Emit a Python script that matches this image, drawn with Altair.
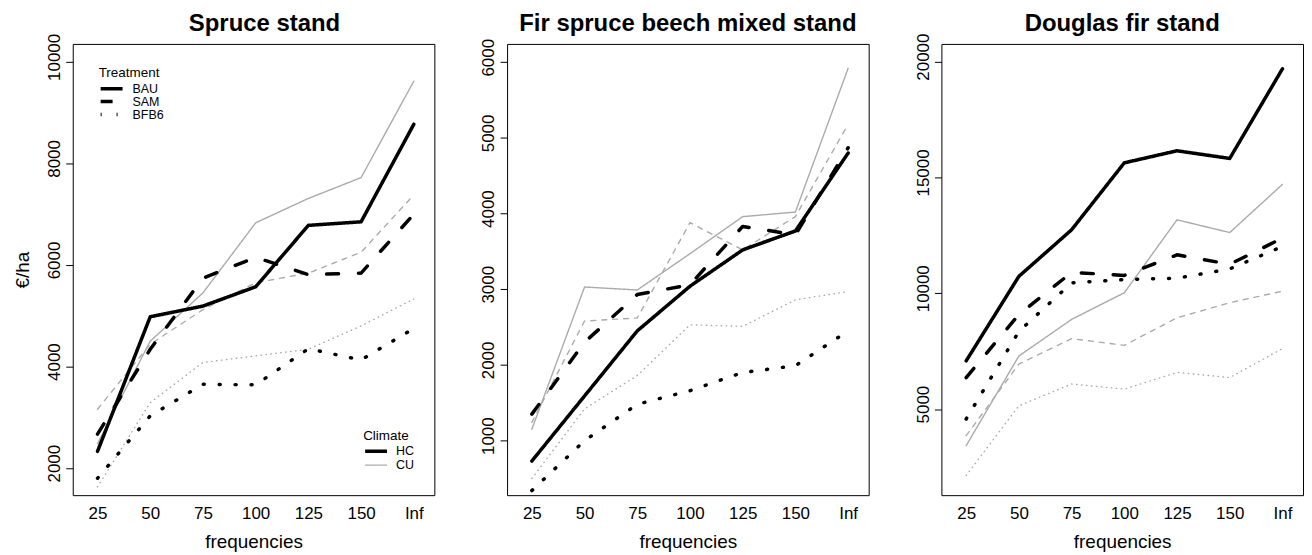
import altair as alt
import pandas as pd

FONT = "Liberation Sans"
GRAY = "#ababab"

freq_labels = ["25", "50", "75", "100", "125", "150", "Inf"]
freq_index = [1, 2, 3, 4, 5, 6, 7]
treatments = ["BAU", "SAM", "BFB6"]
climates = ["HC", "CU"]
panel_titles = ["Spruce stand", "Fir spruce beech mixed stand", "Douglas fir stand"]

# Spruce stand
spruce_BAU_HC = [2330, 4980, 5190, 5570, 6780, 6850, 8770]
spruce_BAU_CU = [2480, 4500, 5450, 6830, 7310, 7720, 9620]
spruce_SAM_HC = [2670, 4340, 5740, 6150, 5810, 5840, 7000]
spruce_SAM_CU = [3160, 4440, 5120, 5650, 5840, 6250, 7380]
spruce_BFB6_HC = [1800, 3030, 3650, 3640, 4350, 4130, 4750]
spruce_BFB6_CU = [1630, 3290, 4080, 4210, 4340, 4800, 5330]

# Fir spruce beech mixed stand
fir_BAU_HC = [730, 1590, 2450, 3040, 3520, 3770, 4800]
fir_BAU_CU = [1150, 3030, 2990, 3470, 3960, 4020, 5920]
fir_SAM_HC = [1350, 2300, 2930, 3060, 3830, 3720, 4870]
fir_SAM_CU = [1240, 2580, 2620, 3880, 3520, 3960, 5180]
fir_BFB6_HC = [340, 1000, 1480, 1660, 1900, 1990, 2450]
fir_BFB6_CU = [500, 1420, 1860, 2530, 2510, 2860, 2970]

# Douglas fir stand
dg_BAU_HC = [7080, 10730, 12740, 15630, 16150, 15820, 19690]
dg_BAU_CU = [3420, 7290, 8870, 10020, 13170, 12620, 14700]
dg_SAM_HC = [6360, 9080, 10900, 10770, 11660, 11250, 12380]
dg_SAM_CU = [3850, 6940, 8040, 7750, 8940, 9590, 10090]
dg_BFB6_HC = [4570, 8350, 10450, 10590, 10650, 11050, 12020]
dg_BFB6_CU = [2130, 5140, 6080, 5860, 6580, 6360, 7610]

y_domains = [[1467, 10353], [279, 6242], [1281, 20765]]
y_ticks = [[2000, 4000, 6000, 8000, 10000],
           [1000, 2000, 3000, 4000, 5000, 6000],
           [5000, 10000, 15000, 20000]]
title_dy = [5, 0, 5]

series = [
    {("BAU", "HC"): spruce_BAU_HC, ("BAU", "CU"): spruce_BAU_CU,
     ("SAM", "HC"): spruce_SAM_HC, ("SAM", "CU"): spruce_SAM_CU,
     ("BFB6", "HC"): spruce_BFB6_HC, ("BFB6", "CU"): spruce_BFB6_CU},
    {("BAU", "HC"): fir_BAU_HC, ("BAU", "CU"): fir_BAU_CU,
     ("SAM", "HC"): fir_SAM_HC, ("SAM", "CU"): fir_SAM_CU,
     ("BFB6", "HC"): fir_BFB6_HC, ("BFB6", "CU"): fir_BFB6_CU},
    {("BAU", "HC"): dg_BAU_HC, ("BAU", "CU"): dg_BAU_CU,
     ("SAM", "HC"): dg_SAM_HC, ("SAM", "CU"): dg_SAM_CU,
     ("BFB6", "HC"): dg_BFB6_HC, ("BFB6", "CU"): dg_BFB6_CU},
]

label_expr = "[" + ",".join("'%s'" % s for s in freq_labels) + "][datum.value - 1]"

W, H = 363, 453


def make_panel(k):
    rows = []
    for (t, c), vals in series[k].items():
        for i, v in zip(freq_index, vals):
            rows.append({"Treatment": t, "Climate": c, "idx": i, "value": v})
    df = pd.DataFrame(rows)
    first = k == 0

    xaxis = alt.Axis(values=freq_index, labelExpr=label_expr, grid=False, domain=False,
                     ticks=False, tickSize=0, labelPadding=23.5, labelBaseline="alphabetic",
                     labelFontSize=17, labelFont=FONT, labelColor="black", labelFlush=False,
                     labelOverlap=False, title="frequencies", titleFont=FONT, titleFontSize=19,
                     titleFontWeight="normal", titleColor="black", titleY=52.5,
                     titleBaseline="alphabetic")
    ykw = dict(values=y_ticks[k], format="d", grid=False, domain=False, ticks=True, tickSize=7,
               tickColor="black", tickWidth=1, labelAngle=270, labelAlign="center",
               labelBaseline="alphabetic", labelPadding=6.3, labelOffset=-5, labelFontSize=17,
               labelFont=FONT, labelColor="black", labelFlush=False, labelOverlap=False)
    if first:
        ykw.update(title="€/ha", titleFont=FONT, titleFontSize=19, titleFontWeight="normal",
                   titleColor="black", titleAngle=270, titleX=-44.3, titleY=H / 2,
                   titleAlign="center", titleBaseline="alphabetic")
    else:
        ykw["title"] = None
    yaxis = alt.Axis(**ykw)

    x = alt.X("idx:Q", scale=alt.Scale(domain=[0.53, 7.39], nice=False, zero=False), axis=xaxis)
    y = alt.Y("value:Q", scale=alt.Scale(domain=y_domains[k], nice=False, zero=False), axis=yaxis)

    if first:
        climate_legend = alt.Legend(
            title="Climate", orient="none", legendX=291.5, legendY=386.5,
            symbolType="stroke", symbolSize=484, labelOffset=7, clipHeight=11.7,
            titleFont=FONT, titleFontSize=13.5, titleFontWeight="normal", titleColor="black",
            labelFont=FONT, labelFontSize=12.5, labelColor="black", titlePadding=3,
            rowPadding=0, padding=0)
        treat_legend = alt.Legend(
            title="Treatment", orient="none", legendX=26, legendY=22,
            symbolType="stroke", symbolSize=484, labelOffset=8, clipHeight=12.8,
            symbolStrokeColor="black", symbolStrokeWidth=3.5,
            titleFont=FONT, titleFontSize=13.5, titleFontWeight="normal", titleColor="black",
            labelFont=FONT, labelFontSize=12.5, labelColor="black", titlePadding=3,
            rowPadding=0, padding=0)
    else:
        climate_legend = None
        treat_legend = None

    color = alt.Color("Climate:N", scale=alt.Scale(domain=climates, range=["black", GRAY]),
                      legend=climate_legend)
    width = alt.StrokeWidth("Climate:O", scale=alt.Scale(domain=climates, range=[3.5, 1.4]),
                            legend=climate_legend)

    cu = alt.Chart(df[df.Climate == "CU"]).mark_line(
        strokeCap="round", strokeJoin="round"
    ).encode(
        x=x, y=y, color=color, strokeWidth=width,
        strokeDash=alt.StrokeDash("Treatment:N", scale=alt.Scale(
            domain=treatments, range=[[1, 0], [5, 6], [0.5, 4.5]]), legend=None),
    )
    hc = alt.Chart(df[df.Climate == "HC"]).mark_line(
        strokeCap="round", strokeJoin="round"
    ).encode(
        x=x, y=y, color=color, strokeWidth=width,
        strokeDash=alt.StrokeDash("Treatment:N", scale=alt.Scale(
            domain=treatments, range=[[1, 0], [12, 20], [1, 15]]), legend=treat_legend),
    )
    title_kw = dict(text=panel_titles[k], font=FONT, fontSize=24, fontWeight="bold",
                    color="black", offset=2, frame="group", anchor="middle", dy=title_dy[k])
    if first:
        title_kw["dx"] = 11
    return alt.layer(cu, hc).resolve_scale(strokeDash="independent").properties(
        width=W, height=H, title=alt.TitleParams(**title_kw))


chart = alt.hconcat(make_panel(0), make_panel(1), make_panel(2), spacing=73, bounds="flush").resolve_scale(
    x="independent", y="independent", color="independent", strokeWidth="independent",
    strokeDash="independent"
).properties(
    padding={"left": 5, "top": 2, "right": 0, "bottom": 0}
).configure_view(stroke="black", strokeWidth=1)

chart.save("out.html", embed_options={"renderer": "svg", "actions": False})
